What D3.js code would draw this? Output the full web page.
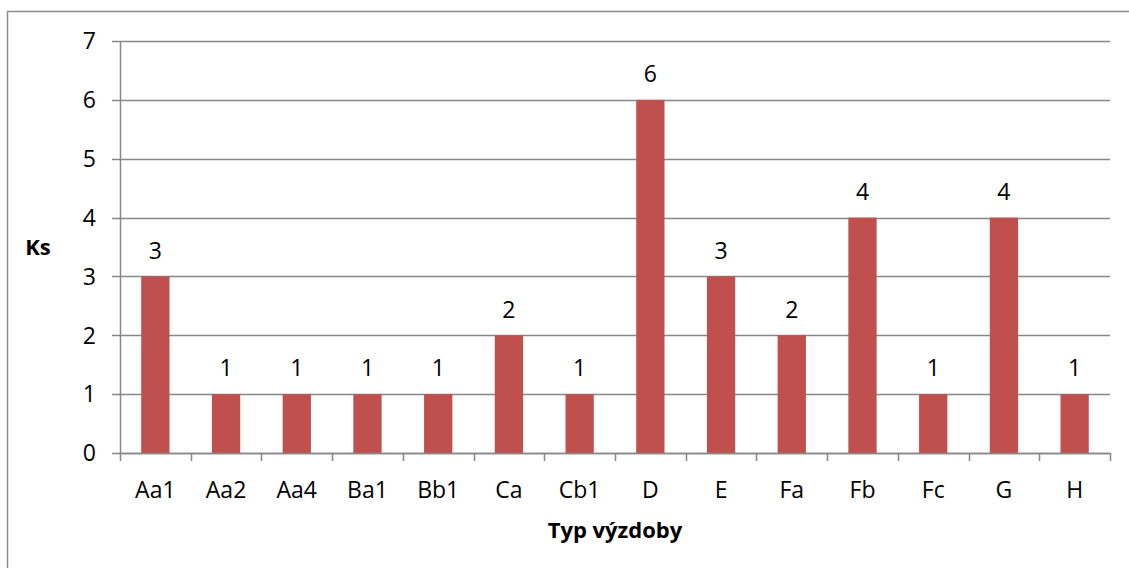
<!DOCTYPE html>
<html>
<head>
<meta charset="utf-8">
<script src="https://cdn.jsdelivr.net/npm/d3@7"></script>
<style>
  body { margin: 0; background: #fff; }
  svg text { font-family: "Open Sans", "Noto Sans", sans-serif; fill: #000; }
</style>
</head>
<body>
<div id="chart"></div>
<script>
var categories = ["Aa1", "Aa2", "Aa4", "Ba1", "Bb1", "Ca", "Cb1", "D", "E", "Fa", "Fb", "Fc", "G", "H"];
var counts = [3, 1, 1, 1, 1, 2, 1, 6, 3, 2, 4, 1, 4, 1];
var yTicks = [0, 1, 2, 3, 4, 5, 6, 7];
var xTitle = "Typ výzdoby";
var yTitle = "Ks";

var WIDTH = 1129,
    HEIGHT = 568,
    margin = {top: 41, right: 19, bottom: 115, left: 120},
    innerW = WIDTH - margin.left - margin.right,
    innerH = HEIGHT - margin.top - margin.bottom,
    GRID = "#878787",
    BAR = "#C0504D";

var svg = d3.select("#chart").append("svg")
    .attr("width", WIDTH)
    .attr("height", HEIGHT);

// outer chart frame (runs off the right and bottom edge)
svg.append("rect")
    .attr("x", 7.5)
    .attr("y", 11.5)
    .attr("width", 1140)
    .attr("height", 600)
    .attr("fill", "none")
    .attr("stroke", "#8c8c8c")
    .attr("stroke-width", 1.5);

var g = svg.append("g").attr("transform", "translate(" + margin.left + "," + margin.top + ")");

var x = d3.scaleBand()
    .domain(categories)
    .range([0, innerW])
    .paddingInner(0.6)
    .paddingOuter(0.3);

var xEdge = d3.scaleBand().domain(categories).range([0, innerW]);

var y = d3.scaleLinear()
    .domain([0, 7])
    .range([innerH, 0]);

// gridlines
g.selectAll(".grid")
    .data(yTicks)
    .enter().append("line")
    .attr("class", "grid")
    .attr("x1", -8)
    .attr("x2", innerW)
    .attr("y1", function (d) { return Math.round(y(d)) + 0.5; })
    .attr("y2", function (d) { return Math.round(y(d)) + 0.5; })
    .attr("stroke", GRID)
    .attr("stroke-width", 1.5);

// y axis line
g.append("line")
    .attr("x1", 0.5).attr("x2", 0.5)
    .attr("y1", 0).attr("y2", innerH)
    .attr("stroke", GRID)
    .attr("stroke-width", 1.5);

// y tick labels
g.selectAll(".ylab")
    .data(yTicks)
    .enter().append("text")
    .attr("class", "ylab")
    .attr("x", -24)
    .attr("y", function (d) { return y(d); })
    .attr("dy", "0.36em")
    .attr("text-anchor", "end")
    .style("font-size", "23px")
    .text(function (d) { return d; });

// bars
g.selectAll(".bar")
    .data(counts)
    .enter().append("rect")
    .attr("class", "bar")
    .attr("x", function (d, i) { return x(categories[i]); })
    .attr("y", function (d) { return y(d); })
    .attr("width", x.bandwidth())
    .attr("height", function (d) { return innerH - y(d); })
    .attr("fill", BAR);

// value labels
g.selectAll(".vlab")
    .data(counts)
    .enter().append("text")
    .attr("class", "vlab")
    .attr("x", function (d, i) { return x(categories[i]) + x.bandwidth() / 2; })
    .attr("y", function (d) { return y(d) - 26; })
    .attr("dy", "0.36em")
    .attr("text-anchor", "middle")
    .style("font-size", "23px")
    .text(function (d) { return d; });

// x axis baseline + ticks
g.append("line")
    .attr("x1", 0).attr("x2", innerW)
    .attr("y1", Math.round(innerH) + 0.5).attr("y2", Math.round(innerH) + 0.5)
    .attr("stroke", GRID)
    .attr("stroke-width", 1.5);

var edges = categories.map(function (c) { return xEdge(c); }).concat([innerW]);
g.selectAll(".xtick")
    .data(edges)
    .enter().append("line")
    .attr("class", "xtick")
    .attr("x1", function (d) { return Math.round(d) + 0.5; })
    .attr("x2", function (d) { return Math.round(d) + 0.5; })
    .attr("y1", innerH)
    .attr("y2", innerH + 8)
    .attr("stroke", GRID)
    .attr("stroke-width", 1.5);

g.selectAll(".xlab")
    .data(categories)
    .enter().append("text")
    .attr("class", "xlab")
    .attr("x", function (d) { return x(d) + x.bandwidth() / 2; })
    .attr("y", innerH + 37)
    .attr("dy", "0.36em")
    .attr("text-anchor", "middle")
    .style("font-size", "23px")
    .text(function (d) { return d; });

// axis titles
svg.append("text")
    .attr("x", margin.left + innerW / 2)
    .attr("y", 530)
    .attr("dy", "0.36em")
    .attr("text-anchor", "middle")
    .style("font-size", "22px")
    .style("font-weight", "bold")
    .text(xTitle);

svg.append("text")
    .attr("x", 38)
    .attr("y", 247)
    .attr("dy", "0.36em")
    .attr("text-anchor", "middle")
    .style("font-size", "22px")
    .style("font-weight", "bold")
    .text(yTitle);
</script>
</body>
</html>
